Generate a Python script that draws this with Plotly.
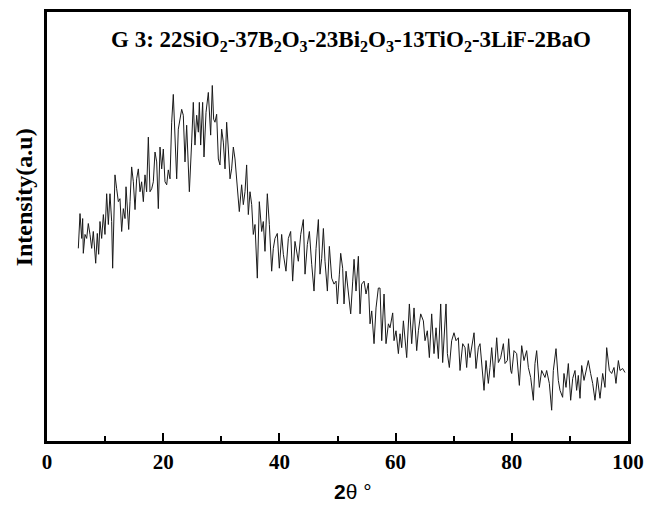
import plotly.graph_objects as go

two_theta = [
    5.39, 5.68, 5.97, 6.14, 6.25, 6.54, 6.83, 7.11, 7.40, 7.69, 7.97, 8.38, 8.66, 8.89, 9.12, 9.41,
    9.70, 9.98, 10.27, 10.56, 10.84, 11.13, 11.30, 11.70, 11.99, 12.28, 12.56, 12.85, 13.14, 13.43,
    13.60, 13.83, 14.06, 14.29, 14.57, 14.86, 15.15, 15.43, 15.72, 16.01, 16.29, 16.58, 16.87, 17.15,
    17.44, 17.73, 18.02, 18.30, 18.59, 18.88, 19.16, 19.45, 19.74, 20.02, 20.31, 20.60, 20.88, 21.17,
    21.46, 21.74, 22.03, 22.32, 22.60,
    23.18, 23.46, 23.75, 24.04, 24.50, 24.90, 25.18, 25.47, 25.76, 26.05, 26.22, 26.45, 26.79, 27.02,
    27.37, 27.77, 28.17, 28.45, 28.68, 28.91, 29.20, 29.49, 29.77, 30.06, 30.35, 30.64, 30.92, 31.21,
    31.50, 31.78, 32.07, 32.36, 32.76, 33.10, 33.50, 33.79, 34.08, 34.36, 34.65, 34.94, 35.23, 35.51,
    35.80, 36.20, 36.54, 36.95, 37.23, 37.52, 37.92, 38.27, 38.67, 38.95, 39.24, 39.64, 39.99, 40.39,
    40.68, 41.13, 41.54, 41.94, 42.28, 42.68,
    43.26, 43.67, 44.12, 44.41, 44.81, 45.16, 45.56, 45.96, 46.31, 46.71, 46.99, 47.28, 47.57, 47.85,
    48.26, 48.60, 49.00, 49.40, 49.75, 49.98, 50.32, 50.55, 50.89, 51.12, 51.47, 51.87, 52.27, 52.62,
    52.85, 53.19, 53.59, 53.88, 54.16, 54.57, 54.91, 55.31, 55.60, 55.89, 56.29, 56.63, 57.03, 57.32,
    57.61, 58.01, 58.35, 58.76, 59.04, 59.50, 59.73, 60.07, 60.48, 60.76, 61.05, 61.34, 61.91,
    62.37, 62.77, 63.17, 63.63, 63.92, 64.32, 64.78, 65.06, 65.46, 65.81, 66.21, 66.61, 66.96, 67.36,
    67.76, 68.10, 68.68, 68.91, 69.25, 69.65, 70.05, 70.40, 70.80, 71.09, 71.55, 71.95, 72.23, 72.52,
    72.81, 73.09, 73.50, 73.84, 74.24, 74.53, 74.82, 75.22, 75.56, 75.96, 76.25, 76.54, 76.94, 77.40,
    77.69, 78.09, 78.55, 78.83, 79.23, 79.46, 79.81,
    79.98, 80.38, 80.84, 81.30, 81.70, 82.10, 82.56, 82.85, 83.25, 83.71, 83.99, 84.28, 84.74, 85.14,
    85.71, 86.00, 86.46, 86.86, 87.15, 87.61, 88.01, 88.30, 88.75, 88.98, 89.33, 89.73, 90.13, 90.48,
    90.88, 91.16, 91.45, 91.74, 92.03, 92.43, 92.77, 93.17, 93.57, 93.92, 94.32, 94.72, 95.18, 95.64,
    96.04, 96.33, 96.79, 97.19, 97.59, 97.93, 98.34, 98.62, 99.08, 99.48,
]

intensity = [
    194, 229, 204, 224, 189, 208, 204, 219, 208, 194, 211, 179, 209, 188, 221, 204,
    228, 208, 249, 218, 249, 221, 174, 268, 254, 241, 244, 211, 234, 224,
    256, 228, 213, 241, 276, 261, 233, 264, 274, 251, 261, 241, 268, 251,
    306, 251, 254, 261, 291, 281, 234, 296, 274, 294, 261, 258, 273, 264,
    321, 349, 311, 264, 314,
    334, 328, 281, 318, 251, 301, 341, 298, 328, 311, 341, 298, 341, 286,
    331, 351, 308, 358, 324, 321, 329, 284, 278, 314, 301, 274, 321, 294,
    264, 274, 296, 284, 254, 231, 258, 238, 251, 278, 228, 251, 238, 208,
    218, 164, 241, 211, 221, 191, 249, 218, 171, 194, 204, 209, 174, 208,
    188, 171, 204, 211, 161, 201,
    181, 208, 223, 168, 198, 211, 178, 151, 194, 223, 168, 184, 214, 181,
    151, 196, 164, 158, 161, 138, 168, 189, 174, 138, 171, 148, 128, 161,
    183, 151, 186, 128, 158, 161, 148, 159, 118, 131, 98, 134, 154, 154,
    101, 148, 98, 118, 114, 129, 101, 111, 88, 108, 94, 121, 84,
    138, 98, 134, 91, 111, 128, 121, 101, 111, 84, 128, 88, 114, 83,
    138, 79, 138, 88, 74, 101, 109, 101, 104, 71, 98, 94, 74, 98,
    84, 93, 109, 73, 94, 98, 74, 51, 81, 58, 74, 94, 64, 104,
    79, 84, 98, 78, 81, 103, 71,
    68, 91, 88, 56, 96, 81, 91, 74, 64, 41, 78, 91, 54, 71,
    64, 71, 58, 31, 71, 93, 61, 51, 44, 68, 54, 78, 41, 63,
    71, 51, 66, 43, 76, 61, 71, 81, 68, 58, 41, 64, 43, 68,
    54, 94, 71, 68, 74, 58, 81, 71, 73, 69,
]

x_ticks = [0, 20, 40, 60, 80, 100]
x_minor = [10, 30, 50, 70, 90]
title_text = ("<b>G 3: 22SiO<sub>2</sub>-37B<sub>2</sub>O<sub>3</sub>-23Bi<sub>2</sub>O<sub>3</sub>"
              "-13TiO<sub>2</sub>-3LiF-2BaO</b>")

fig = go.Figure()
fig.add_trace(go.Scatter(x=two_theta, y=intensity, mode="lines",
                         line=dict(color="#1a1a1a", width=1), showlegend=False))

serif = "Liberation Serif, Times New Roman, serif"

fig.update_layout(
    width=659, height=505,
    margin=dict(l=47, r=31, t=9, b=64),
    paper_bgcolor="white", plot_bgcolor="white",
    xaxis=dict(range=[0, 100], tickvals=x_ticks, ticks="inside", ticklen=8, tickwidth=2,
               tickcolor="black", showline=True, linecolor="black", linewidth=2.5, mirror=True,
               showgrid=False, zeroline=False,
               tickfont=dict(family=serif, size=21, color="black", weight="bold"),
               minor=dict(tickvals=x_minor, ticks="inside", ticklen=5, tickwidth=2,
                          tickcolor="black", showgrid=False)),
    yaxis=dict(range=[0, 432], showticklabels=False, ticks="", showline=True, linecolor="black",
               linewidth=2.5, mirror=True, showgrid=False, zeroline=False),
    annotations=[
        dict(text=title_text, x=0.523, y=0.933, xref="paper", yref="paper", showarrow=False,
             font=dict(family=serif, size=23, color="black"),
             xanchor="center", yanchor="middle"),
        dict(text="<b>2</b>θ °", x=0.4905, y=-0.118, xref="paper", yref="paper", showarrow=False,
             font=dict(family="Liberation Sans, Arial, sans-serif", size=21, color="black"),
             xanchor="left", yanchor="middle"),
        dict(text="<b>Intensity(a.u)</b>", x=-0.0396, y=0.568, xref="paper", yref="paper",
             showarrow=False, textangle=-90,
             font=dict(family=serif, size=24, color="black"),
             xanchor="center", yanchor="middle"),
    ],
)

fig.write_html("out.html")
